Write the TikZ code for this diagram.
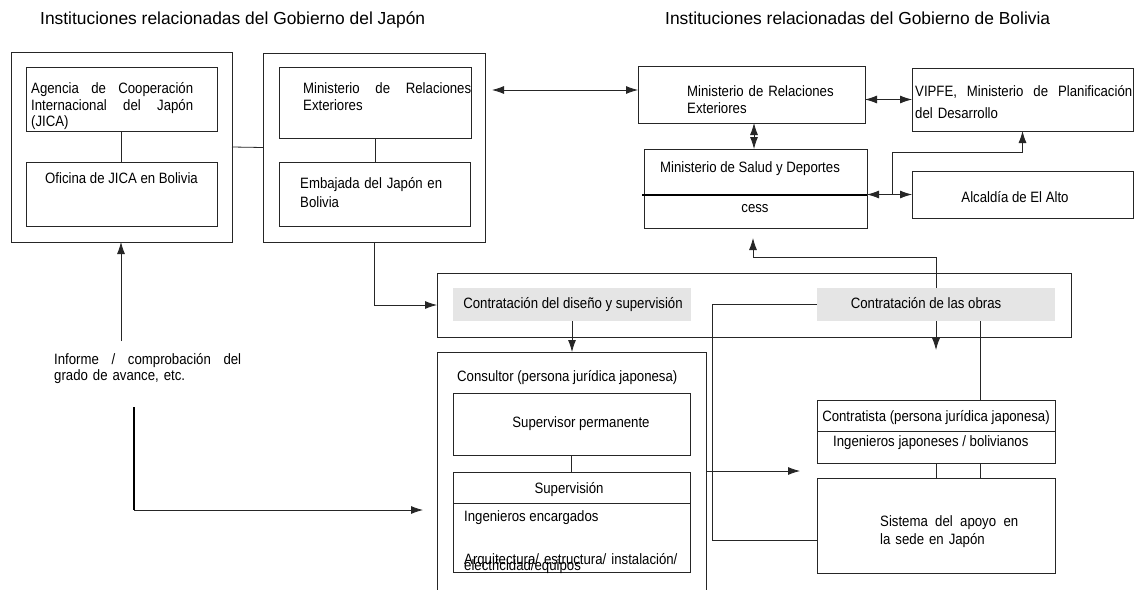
\documentclass[tikz,border=0pt]{standalone}
\usepackage{fontspec}
\setmainfont{Liberation Sans}[FakeStretch=0.88]
\newfontfamily\titlefont{Liberation Sans}
\usetikzlibrary{arrows.meta}

\begin{document}
\begin{tikzpicture}[x=1pt, y=-1pt,
    font=\fontsize{15}{17.5}\selectfont,
    >={Latex[length=12pt,width=8pt]},
    box/.style={draw=black!85, line width=0.8pt, inner sep=0pt, outer sep=0pt},
    shade/.style={fill=black!10, inner sep=0pt, outer sep=0pt},
    txt/.style={inner sep=0pt, anchor=base west, align=left},
    ctxt/.style={inner sep=0pt, anchor=base},
    link/.style={draw=black!85, line width=0.8pt},
    heavy/.style={draw=black, line width=2pt}]

  \useasboundingbox[fill=white] (0,0) rectangle (1139,589);

  % titles
  \node[txt, font=\titlefont\fontsize{17.4}{20}\selectfont] (tjp) at (40,24) {Instituciones relacionadas del Gobierno del Japón};
  \node[txt, font=\titlefont\fontsize{17.4}{20}\selectfont] (tbo) at (665,24) {Instituciones relacionadas del Gobierno de Bolivia};

  % Japan side
  \node[box, minimum width=221pt, minimum height=190pt] (jpout) at (121.5,147) {};
  \node[box, minimum width=191pt, minimum height=64pt] (jica) at (121.5,99) {};
  \node[box, minimum width=191pt, minimum height=64pt] (ofi) at (121.5,194) {};
  \node[txt, text width=162pt] (jicat) at (31,93) {Agencia\hfill de\hfill Cooperación\\Internacional\hfill del\hfill Japón\\[-1.5pt](JICA)};
  \node[ctxt] (ofit) at (121.5,183) {Oficina de JICA en Bolivia};

  \node[box, minimum width=222pt, minimum height=189pt] (jpin) at (374,147.5) {};
  \node[box, minimum width=192pt, minimum height=71pt] (mrejp) at (375,102.5) {};
  \node[box, minimum width=191pt, minimum height=64pt] (emb) at (374.5,194) {};
  \node[txt, text width=168pt] (mrejpt) at (303,93) {Ministerio\hfill de\hfill Relaciones\\Exteriores};
  \node[txt, text width=142pt] (embt) at (300,188) {Embajada\hfill del\hfill Japón\hfill en\\[1.5pt]Bolivia};

  \draw[link] (jica) -- (ofi);
  \draw[link] (mrejp.south) -- (mrejp.south |- emb.north);
  \draw[link] (jpout.east) -- (jpin.west);

  % Bolivia side
  \node[box, minimum width=227pt, minimum height=57pt] (mrebo) at (751.5,94.5) {};
  \node[txt, text width=160pt] (mrebot) at (687,96) {Ministerio de Relaciones\\Exteriores};
  \node[box, minimum width=223pt, minimum height=79pt] (msd) at (755.5,188.5) {};
  \node[ctxt] (msdt) at (750,172) {Ministerio de Salud y Deportes};
  \node[ctxt] (cesst) at (755,212) {cess};
  \node[box, minimum width=221pt, minimum height=63pt] (vipfe) at (1022.5,99.5) {};
  \node[txt, text width=217pt] (vipfet) at (915,96) {VIPFE,\hfill Ministerio\hfill de\hfill Planificación\\[4.5pt]del Desarrollo};
  \node[box, minimum width=221pt, minimum height=47pt] (alc) at (1022.5,194.5) {};
  \node[ctxt] (alct) at (1015,202) {Alcaldía de El Alto};

  \coordinate (jpend) at (492,90);
  \coordinate (split) at (892,194.5);
  \draw[link, <->] (jpend) -- (mrebo.west |- jpend);
  \draw[link, <->] ([xshift=2.5pt]mrebo.south) -- ([xshift=-1.5pt]msd.north);
  \draw[link, <->] (mrebo.east |- vipfe.west) -- (vipfe.west);
  \draw[heavy] ([xshift=-2pt,yshift=-6.5pt]msd.west) -- ([yshift=-6.5pt]msd.east);
  \draw[link, <->] (msd.east |- alc.west) -- (alc.west);
  \draw[link, ->] (split) |- ([yshift=-21pt]vipfe.south) -- (vipfe.south);

  % contracts
  \node[box, minimum width=634pt, minimum height=64pt] (contr) at (754,305) {};
  \node[shade, minimum width=238pt, minimum height=33pt] (cd) at (572,304.5) {};
  \node[shade, minimum width=238pt, minimum height=33pt] (co) at (936,304.5) {};
  \node[ctxt] (cdt) at (573,308.3) {Contratación del diseño y supervisión};
  \node[ctxt] (cot) at (926,308.3) {Contratación de las obras};

  \coordinate (msdin) at (753,238);
  \coordinate (codown) at (936,350);
  \draw[link, ->] (jpin.south) |- (contr.west);
  \draw[link, ->] (co.north) |- ([yshift=-19pt]msdin) -- (msdin);
  \draw[link, ->] (co.south) -- (codown);

  % consultant
  \node[box, minimum width=269pt, minimum height=252pt] (cons) at (571.5,478) {};
  \node[txt] (const) at (457,381.7) {Consultor (persona jurídica japonesa)};
  \node[box, minimum width=237pt, minimum height=62pt] (sup) at (571.5,424) {};
  \node[ctxt] (supt) at (581,427.3) {Supervisor permanente};
  \node[box, minimum width=237pt, minimum height=100pt] (svn) at (571.5,522) {};
  \node[ctxt] (svnt) at (569,493.3) {Supervisión};
  \node[txt] (ingt) at (464,521.7) {Ingenieros encargados};
  \node[txt, text width=224pt] (arqt) at (464,564) {Arquitectura/ estructura/ instalación/\\[-11.5pt]electricidad/equipos};
  \draw[link] ([yshift=-31pt]svn.north west) -- ([yshift=-31pt]svn.north east);
  \draw[link, ->] (cd.south) -- (cd.south |- cons.north);
  \draw[link] (sup) -- (svn);

  % contractor
  \node[box, minimum width=238pt, minimum height=63pt] (ctr) at (936,431.5) {};
  \node[ctxt] (ctrt) at (936,421.7) {Contratista (persona jurídica japonesa)};
  \node[txt] (ingjt) at (833,446.7) {Ingenieros japoneses / bolivianos};
  \draw[link] ([yshift=-31pt]ctr.north west) -- ([yshift=-31pt]ctr.north east);
  \node[box, minimum width=238pt, minimum height=95pt] (sis) at (936,525.5) {};
  \node[txt, text width=138pt] (sist) at (880,526.7) {Sistema\hfill del\hfill apoyo\hfill en\\la sede en Japón};

  \coordinate (ctrin) at (800,471);
  \draw[link] ([xshift=44pt]co.south) -- ([xshift=44pt]ctr.north);
  \draw[link] (ctr.south) -- (sis.north);
  \draw[link] ([xshift=44pt]ctr.south) -- ([xshift=44pt]sis.north);
  \draw[link] (co.west) -- ++(-105,0) |- ([yshift=-14.5pt]sis.west);
  \draw[link, ->] (cons.east |- ctrin) -- (ctrin);

  % report
  \node[txt, text width=187pt] (rept) at (54,364) {Informe\hfill /\hfill comprobación\hfill del\\[-1.5pt]grado de avance, etc.};
  \coordinate (repup) at (121,341);
  \coordinate (repdown) at (134,407);
  \coordinate (consin) at (423,510);
  \draw[link, ->] (repup) -- (repup |- jpout.south);
  \draw[heavy, line width=1.6pt] (repdown) -- (repdown |- consin);
  \draw[link, ->] (repdown |- consin) -- (consin);
\end{tikzpicture}
\end{document}
